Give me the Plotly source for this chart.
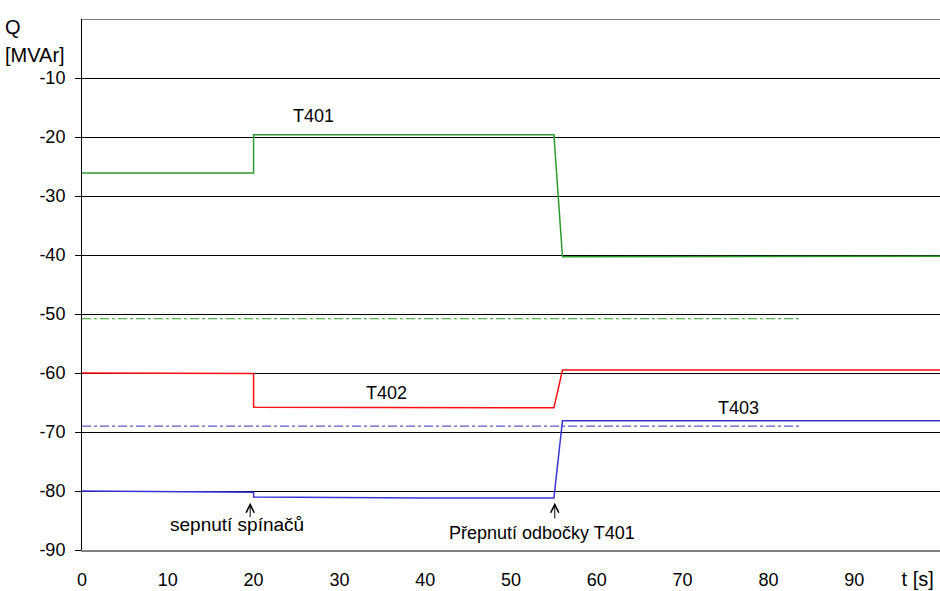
import plotly.graph_objects as go

# ---- data ----
t_T401 = [0, 10, 20, 20, 40, 55, 56, 80, 100]
q_T401 = [-26.1, -26.1, -26.1, -19.6, -19.6, -19.6, -40.3, -40.3, -40.2]
t_T402 = [0, 20, 20, 40, 55, 56, 65, 100]
q_T402 = [-60.0, -60.1, -65.8, -65.9, -65.9, -59.5, -59.5, -59.5]
t_T403 = [0, 20, 20, 40, 55, 56, 100]
q_T403 = [-80.0, -80.2, -81.0, -81.2, -81.2, -68.1, -68.1]
t_ref = [0, 83.7]
q_ref_green = [-50.8, -50.8]
q_ref_blue = [-69.0, -69.0]
y_ticks = [-90, -80, -70, -60, -50, -40, -30, -20, -10]
y_ticktext = ["-90", "-80", "-70", "-60", "-50", "-40", "-30", "-20", "-10"]
x_ticks = [0, 10, 20, 30, 40, 50, 60, 70, 80, 90]
x_ticktext = ["0", "10", "20", "30", "40", "50", "60", "70", "80", "90"]
x_title_pos = 97.4
x_title = "t [s]"

FONT = "Liberation Sans, Arial, sans-serif"
FS = 18

fig = go.Figure()
fig.add_trace(go.Scatter(x=t_ref, y=q_ref_green, mode="lines",
                         line=dict(color="#2e9a2e", width=1, dash="dashdot")))
fig.add_trace(go.Scatter(x=t_ref, y=q_ref_blue, mode="lines",
                         line=dict(color="#3030b0", width=1, dash="dashdot")))
fig.add_trace(go.Scatter(x=t_T401, y=q_T401, mode="lines",
                         line=dict(color="#2e9a2e", width=1.5)))
fig.add_trace(go.Scatter(x=t_T402, y=q_T402, mode="lines",
                         line=dict(color="#ff1010", width=1.5)))
fig.add_trace(go.Scatter(x=t_T403, y=q_T403, mode="lines",
                         line=dict(color="#3535d5", width=1.5)))

# top border at 0
fig.add_shape(type="line", xref="paper", yref="y", x0=0, x1=1, y0=0, y1=0,
              line=dict(color="black", width=1))

ann = []
def txt(x, y, s, size=FS, **kw):
    d = dict(x=x, y=y, text=s, showarrow=False, font=dict(family=FONT, size=size, color="black"))
    d.update(kw)
    ann.append(d)

txt(27, -16.4, "T401")
txt(35.5, -63.4, "T402")
txt(76.5, -66.0, "T403")
txt(18.1, -85.7, "sepnutí spínačů", size=19)
txt(53.6, -87.2, "Přepnutí odbočky T401")

for xa in (19.6, 55.1):
    ann.append(dict(x=xa, y=-82.0, ax=xa, ay=-84.7 if xa < 30 else -84.9,
                    xref="x", yref="y", axref="x", ayref="y", text="",
                    showarrow=True, arrowhead=5, arrowsize=1.6, arrowwidth=1,
                    arrowcolor="black"))

txt(-0.092, 1.009, "Q", size=20, xref="paper", yref="paper", xanchor="left")
txt(-0.092, 0.957, "[MVAr]", size=20, xref="paper", yref="paper", xanchor="left")

fig.update_layout(
    width=940, height=591,
    margin=dict(l=82, r=0, t=19, b=41),
    paper_bgcolor="white", plot_bgcolor="white",
    showlegend=False,
    font=dict(family=FONT, size=FS, color="black"),
    annotations=ann,
    xaxis=dict(range=[0, 100], tickvals=x_ticks + [x_title_pos],
               ticktext=x_ticktext + ['<span style="font-size:20px">' + x_title + '</span>'],
               showgrid=False, zeroline=False,
               showline=True, linecolor="#808080", linewidth=2, ticks="",
               ticklabelstandoff=12, tickfont=dict(family=FONT, size=FS, color="black")),
    yaxis=dict(range=[-90, 0], tickvals=y_ticks, ticktext=y_ticktext, showgrid=True,
               gridcolor="black", gridwidth=1, zeroline=False, showline=True,
               linecolor="black", linewidth=1, ticks="outside", ticklen=6,
               tickcolor="black", ticklabelstandoff=6,
               tickfont=dict(family=FONT, size=FS, color="black")),
)

fig.write_html("out.html")
